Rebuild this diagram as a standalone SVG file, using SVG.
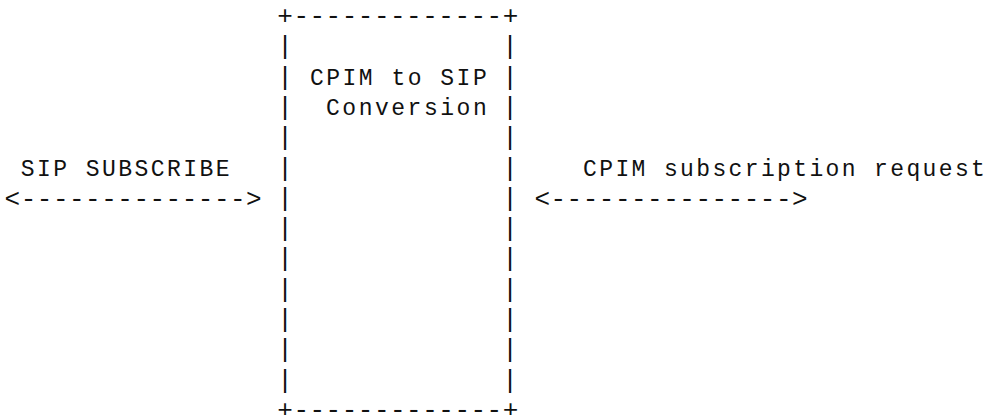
<svg xmlns="http://www.w3.org/2000/svg" width="985" height="415" viewBox="0 0 985 415">
  <style>
    .t { font-family: "Liberation Mono", "DejaVu Sans Mono", monospace; font-size: 23px; fill: #111; }
    .d { font-family: "Liberation Mono", "DejaVu Sans Mono", monospace; font-size: 26px; fill: #111; }
    .v { font-family: "Liberation Mono", "DejaVu Sans Mono", monospace; font-size: 26px; fill: #111; text-anchor: middle; }
  </style>
  <rect width="985" height="415" fill="#fff"/>

  <!-- gateway box: character grid, 16.07px columns, 30.3px rows -->
  <g id="cpim-sip-converter">
    <text class="d" x="277.3" y="24" textLength="241" lengthAdjust="spacing">+-------------+</text>
    <text class="v" x="285" y="54.3">|</text>
    <text class="v" x="285" y="84.6">|</text>
    <text class="v" x="285" y="114.9">|</text>
    <text class="v" x="285" y="145.2">|</text>
    <text class="v" x="285" y="175.5">|</text>
    <text class="v" x="285" y="205.8">|</text>
    <text class="v" x="285" y="236.1">|</text>
    <text class="v" x="285" y="266.4">|</text>
    <text class="v" x="285" y="296.7">|</text>
    <text class="v" x="285" y="327">|</text>
    <text class="v" x="285" y="357.3">|</text>
    <text class="v" x="285" y="387.6">|</text>
    <text class="v" x="510" y="54.3">|</text>
    <text class="v" x="510" y="84.6">|</text>
    <text class="v" x="510" y="114.9">|</text>
    <text class="v" x="510" y="145.2">|</text>
    <text class="v" x="510" y="175.5">|</text>
    <text class="v" x="510" y="205.8">|</text>
    <text class="v" x="510" y="236.1">|</text>
    <text class="v" x="510" y="266.4">|</text>
    <text class="v" x="510" y="296.7">|</text>
    <text class="v" x="510" y="327">|</text>
    <text class="v" x="510" y="357.3">|</text>
    <text class="v" x="510" y="387.6">|</text>
    <text class="d" x="277.3" y="417.9" textLength="241" lengthAdjust="spacing">+-------------+</text>
    <text class="t" x="309.9" y="84.6" textLength="176.8" lengthAdjust="spacing">CPIM to SIP</text>
    <text class="t" x="326" y="114.9" textLength="160.7" lengthAdjust="spacing">Conversion</text>
  </g>

  <!-- SIP side label -->
  <g id="sip-subscribe">
    <text class="t" x="20.7" y="175.5" textLength="208.9" lengthAdjust="spacing">SIP SUBSCRIBE</text>
  </g>

  <!-- CPIM side label -->
  <g id="cpim-subscription">
    <text class="t" x="583.1" y="175.5" textLength="401.8" lengthAdjust="spacing">CPIM subscription request</text>
  </g>

  <!-- two-way message flows on each side of the box -->
  <g id="connectors">
    <text class="d" x="4.6" y="206.5" textLength="257.1" lengthAdjust="spacing">&lt;--------------&gt;</text>
    <text class="d" x="534.4" y="206.5" textLength="273.2" lengthAdjust="spacing">&lt;---------------&gt;</text>
  </g>
</svg>
